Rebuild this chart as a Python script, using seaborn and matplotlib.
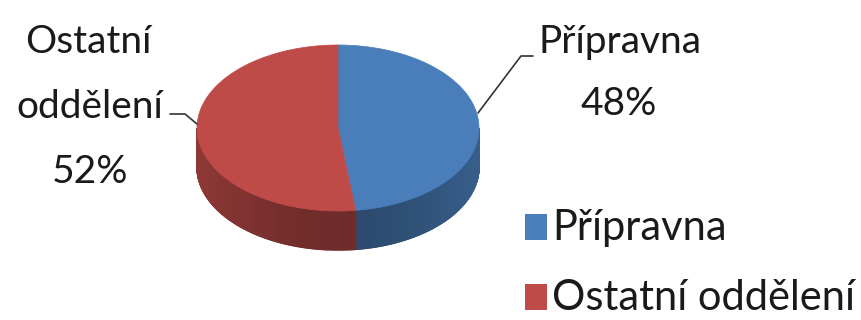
import numpy as np
import matplotlib
matplotlib.use("Agg")
import matplotlib.pyplot as plt
import seaborn as sns
from matplotlib.patches import Polygon, Rectangle
from matplotlib.colors import to_rgb

# Data
categories = ["Přípravna", "Ostatní oddělení"]
shares = [48, 52]
pct_labels = ["48%", "52%"]
slice_labels = ["Přípravna", "Ostatní\noddělení"]

palette = ["#4A7EBB", "#BE4B48"]

sns.set_theme(style="white")
plt.rcParams['font.family'] = ['Lato', 'DejaVu Sans']

fig = plt.figure(figsize=(8.61, 3.2), dpi=100)
ax = fig.add_axes([0, 0, 1, 1])
ax.set_xlim(0, 861)
ax.set_ylim(320, 0)
ax.axis('off')

# 3D pie geometry (pixel space, y downwards)
cx, cy, a, b, depth = 338, 128, 141, 83, 39


def rim(t, dy=0.0):
    return cx + a * np.sin(t), cy - b * np.cos(t) + dy


fr = np.array(shares, dtype=float) / sum(shares)
bounds = np.concatenate([[0.0], np.cumsum(fr)]) * 2 * np.pi

# Side walls (only the front half is visible)
for i, col in enumerate(palette):
    t0 = max(bounds[i], np.pi / 2)
    t1 = min(bounds[i + 1], 3 * np.pi / 2)
    if t1 <= t0:
        continue
    ts = np.linspace(t0, t1, 240)
    base = np.array(to_rgb(col))
    for ta, tb in zip(ts[:-1], ts[1:]):
        tm = 0.5 * (ta + tb)
        f = 0.58 + 0.17 * abs(np.sin(tm)) ** 1.5
        c = np.clip(base * f, 0, 1)
        xa, ya = rim(ta)
        xb, yb = rim(tb)
        poly = [(xa, ya), (xb, yb), (xb, yb + depth), (xa, ya + depth)]
        ax.add_patch(Polygon(poly, closed=True, facecolor=c, edgecolor=c,
                             lw=1.0, zorder=2))

# Top face
for i, col in enumerate(palette):
    ts = np.linspace(bounds[i], bounds[i + 1], 200)
    xs, ys = rim(ts)
    pts = [(cx, cy)] + list(zip(xs, ys))
    ax.add_patch(Polygon(pts, closed=True, facecolor=col, edgecolor=col,
                         lw=0.5, zorder=3))

# Data labels with leader lines
lab_kw = dict(fontsize=28, color="#1a1a1a", zorder=5)
ax.plot([478, 521, 533], [113, 56, 56], color="#333333", lw=1.2, zorder=4)
ax.text(538, 53, slice_labels[0], ha="left", va="baseline", **lab_kw)
ax.text(619, 115, pct_labels[0], ha="center", va="baseline", **lab_kw)

ax.plot([170, 185, 197], [114, 114, 124], color="#333333", lw=1.2, zorder=4)
ax.text(88, 53, "Ostatní", ha="center", va="baseline", **lab_kw)
ax.text(90, 118, "oddělení", ha="center", va="baseline", **lab_kw)
ax.text(90, 183, pct_labels[1], ha="center", va="baseline", **lab_kw)

# Legend
for i, (name, col) in enumerate(zip(categories, palette)):
    y = 214 + i * 70
    ax.add_patch(Rectangle((525, y), 22, 26, facecolor=col, edgecolor="none"))
    ax.text(552, y + 26, name, ha="left", va="baseline", fontsize=30,
            color="#1a1a1a")

fig.savefig("out.png", dpi=100, facecolor="white")
